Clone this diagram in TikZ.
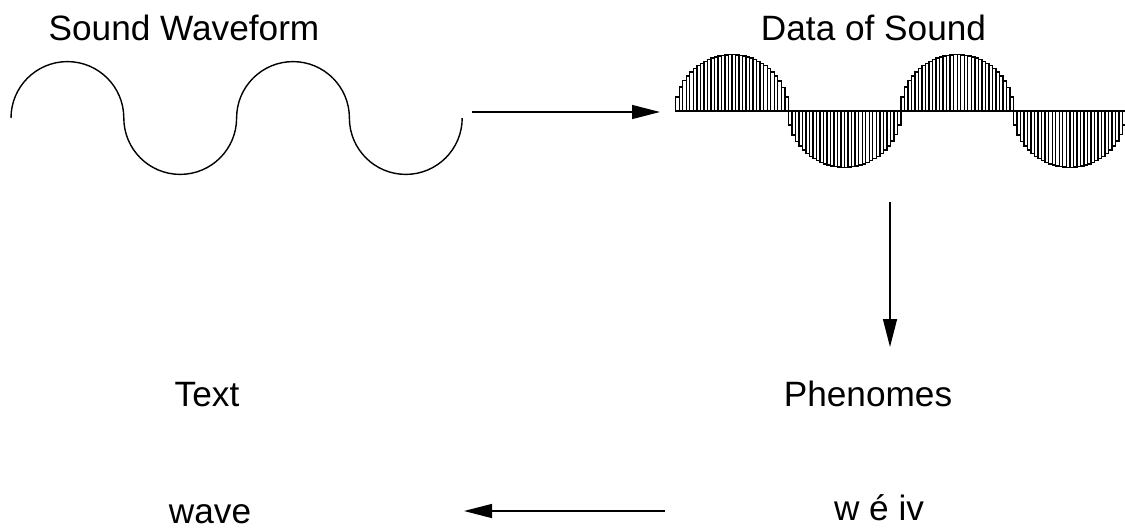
\documentclass[tikz,border=0pt]{standalone}
\usepackage{fontspec}
\setmainfont{Liberation Sans}
\usetikzlibrary{arrows.meta}

\begin{document}
\begin{tikzpicture}[x=0.5pt,y=0.5pt,line width=0.7pt,
    lbl/.style={inner sep=0pt,anchor=base,font=\fontsize{17.6}{21}\selectfont},
    flow/.style={-{Triangle[length=14pt,width=7pt]}}]
  \useasboundingbox (0,0) rectangle (1125,-530);

  % sound wave: four half circles
  \draw (11,-118) arc[start angle=180,end angle=0,radius=28.2pt]
    arc[start angle=180,end angle=360,radius=28.2pt]
    arc[start angle=180,end angle=0,radius=28.2pt]
    arc[start angle=180,end angle=360,radius=28.2pt];

  % sampled data, 32 bars per half period
  \foreach \k in {0,...,3}{
    \foreach \i in {0,...,31}{
      \pgfmathsetmacro{\xa}{675.7+112.6*\k+3.52*\i}
      \pgfmathsetmacro{\h}{(1-2*mod(\k,2))*sqrt(56.3*56.3-(3.52*\i+1.76-56.3)^2)}
      \draw (\xa,-111) rectangle ++(3.52,\h);
    }
  }

  \node[lbl] (wavelabel) at (184,-40) {Sound Waveform};
  \node[lbl] (datalabel) at (873.5,-40) {Data of Sound};
  \node[lbl] (textlabel) at (207,-406) {Text};
  \node[lbl] (phonlabel) at (868,-406) {Phenomes};
  \node[lbl] (word) at (210,-523) {wave};
  \node[lbl] (phon) at (879,-520) {w é iv};

  \coordinate (wave-r) at (472,-112);
  \coordinate (data-l) at (660,-112);
  \coordinate (data-b) at (890,-202);
  \coordinate (phon-t) at (890,-347);
  \coordinate (phon-l) at (665,-511);
  \coordinate (word-r) at (464,-511);

  \draw[flow] (wave-r) -- (data-l);
  \draw[flow] (data-b) -- (phon-t);
  \draw[flow] (phon-l) -- (word-r);
\end{tikzpicture}
\end{document}
